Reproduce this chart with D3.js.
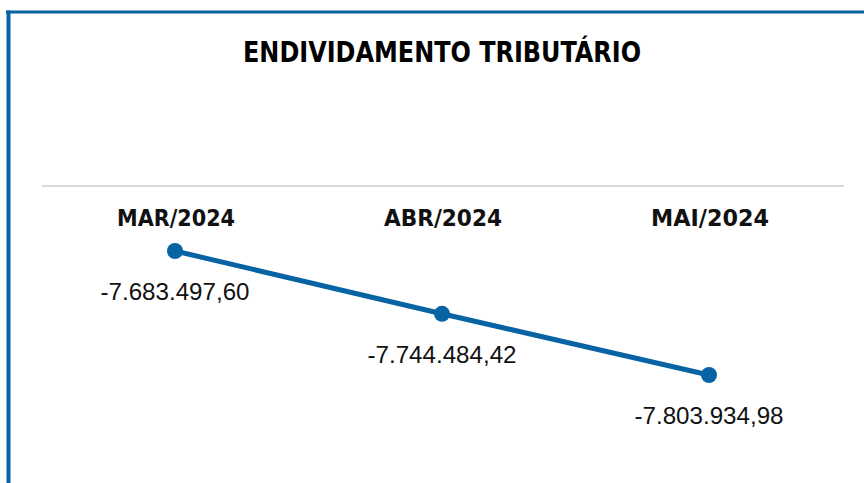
<!DOCTYPE html>
<html>
<head>
<meta charset="utf-8">
<script src="https://cdn.jsdelivr.net/npm/d3@7"></script>
<style>
  html, body { margin: 0; padding: 0; background: #fff; }
  svg { display: block; }
</style>
</head>
<body>
<svg id="chart"></svg>
<script>
// data
let months = ["MAR/2024", "ABR/2024", "MAI/2024"];
let values = [-7683497.60, -7744484.42, -7803934.98];
let title = "ENDIVIDAMENTO TRIBUTÁRIO";

let width = 864,
    height = 483;
let blue = "#0763a3";

let svg = d3.select("#chart")
    .attr("width", width)
    .attr("height", height);

// frame: top and left blue borders
svg.append("line")
    .attr("x1", 6).attr("x2", width)
    .attr("y1", 12).attr("y2", 12)
    .attr("stroke", blue).attr("stroke-width", 3);
svg.append("line")
    .attr("x1", 8.5).attr("x2", 8.5)
    .attr("y1", 10.5).attr("y2", height)
    .attr("stroke", blue).attr("stroke-width", 4);

svg.append("text")
    .attr("x", 442).attr("y", 62)
    .attr("text-anchor", "middle")
    .attr("font-family", "DejaVu Sans Condensed, DejaVu Sans")
    .attr("font-weight", "bold")
    .attr("font-size", 28)
    .attr("textLength", 398)
    .attr("lengthAdjust", "spacingAndGlyphs")
    .attr("fill", "#000")
    .text(title);

// separator line
svg.append("line")
    .attr("x1", 42).attr("x2", 844)
    .attr("y1", 186).attr("y2", 186)
    .attr("stroke", "#d9d9d9").attr("stroke-width", 2);

let x = d3.scalePoint()
    .domain(months)
    .range([175, 709]);

let y = d3.scaleLinear()
    .domain([d3.max(values), d3.min(values)])
    .range([251, 375]);

let data = months.map((m, i) => ({month: m, value: values[i]}));

// month labels
svg.append("g").selectAll("text")
    .data(data)
    .join("text")
    .attr("x", d => x(d.month) + 1)
    .attr("y", 226)
    .attr("text-anchor", "middle")
    .attr("font-family", "DejaVu Sans")
    .attr("font-weight", "bold")
    .attr("font-size", 23)
    .attr("textLength", 118)
    .attr("lengthAdjust", "spacingAndGlyphs")
    .attr("fill", "#111")
    .text(d => d.month);

let line = d3.line()
    .x(d => x(d.month))
    .y(d => y(d.value));

svg.append("path")
    .datum(data)
    .attr("fill", "none")
    .attr("stroke", blue)
    .attr("stroke-width", 5)
    .attr("stroke-linejoin", "round")
    .attr("d", line);

svg.append("g").selectAll("circle")
    .data(data)
    .join("circle")
    .attr("cx", d => x(d.month))
    .attr("cy", d => y(d.value))
    .attr("r", 8)
    .attr("fill", blue);

let fmt = v => {
    let s = Math.abs(v).toFixed(2).split(".");
    let int = s[0].replace(/\B(?=(\d{3})+(?!\d))/g, ".");
    return (v < 0 ? "-" : "") + int + "," + s[1];
};

svg.append("g").selectAll("text")
    .data(data)
    .join("text")
    .attr("x", d => x(d.month))
    .attr("y", d => y(d.value) + 49)
    .attr("text-anchor", "middle")
    .attr("font-family", "Liberation Sans, Arial")
    .attr("font-size", 24)
    .attr("textLength", 149)
    .attr("lengthAdjust", "spacingAndGlyphs")
    .attr("fill", "#111")
    .text(d => fmt(d.value));
</script>
</body>
</html>
